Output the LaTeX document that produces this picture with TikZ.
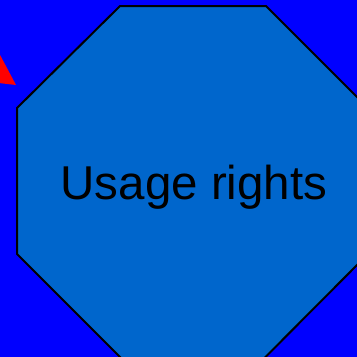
\documentclass[tikz,border=0pt]{standalone}
\usepackage{fontspec}
\setmainfont{Liberation Sans}
\definecolor{bgblue}{HTML}{0000FF}
\definecolor{octfill}{HTML}{0066CC}
\definecolor{tri}{HTML}{FF0000}
\tikzset{
  octo/.style={fill=octfill, draw=black, line width=2pt, line join=miter},
  lbl/.style={font=\fontsize{47.5}{56}\selectfont, text=black, inner sep=0pt, anchor=base},
}
\begin{document}
\begin{tikzpicture}[x=1pt,y=-1pt]
\useasboundingbox (0,0) rectangle (357,357);
\clip (0,0) rectangle (357,357);
\fill[bgblue] (0,0) rectangle (357,357);
\fill[tri] (-10,36) -- (16,85) -- (-10,82) -- cycle;
\draw[octo] (120,6) -- (266,6) -- (368,108) -- (368,254) -- (263,359.5) -- (122.5,359.5) -- (17,254) -- (17,108) -- cycle;
\node[lbl] (t) at (194,199) {Usage rights};
\end{tikzpicture}
\end{document}
